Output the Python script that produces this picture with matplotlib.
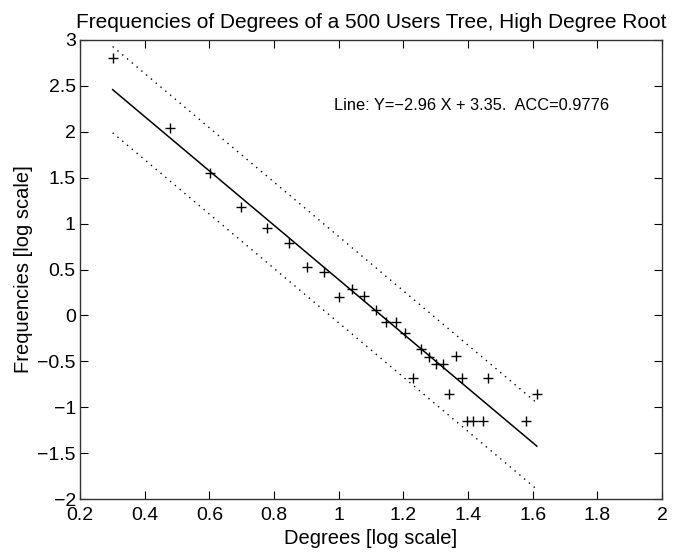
import matplotlib
matplotlib.use("Agg")
import matplotlib.pyplot as plt
import numpy as np

plt.rcParams['font.family'] = ['Liberation Sans', 'DejaVu Sans']

degrees = [0.301, 0.477, 0.602, 0.699, 0.778, 0.845, 0.903, 0.954, 1.000,
           1.041, 1.079, 1.114, 1.146, 1.176, 1.204, 1.230, 1.255, 1.279,
           1.301, 1.322, 1.342, 1.362, 1.380, 1.398, 1.415, 1.447, 1.462,
           1.580, 1.613]
frequencies = [2.80, 2.045, 1.548, 1.184, 0.955, 0.785, 0.530, 0.469, 0.197,
               0.284, 0.215, 0.059, -0.069, -0.069, -0.195, -0.682, -0.370, -0.450,
               -0.533, -0.533, -0.856, -0.442, -0.682, -1.154, -1.154, -1.154, -0.682,
               -1.154, -0.856]
slope = -2.96
intercept = 3.35
band = 0.47
acc = 0.9776

xticks = [0.2, 0.4, 0.6, 0.8, 1, 1.2, 1.4, 1.6, 1.8, 2]
yticks = [-2, -1.5, -1, -0.5, 0, 0.5, 1, 1.5, 2, 2.5, 3]

fig = plt.figure(figsize=(6.98, 5.55), dpi=100)
ax = fig.add_axes([80/698, 56/555, 582/698, 459/555])

xs = np.array([min(degrees), max(degrees)])
fit = slope * xs + intercept
ax.plot(degrees, frequencies, '+', color='black', markersize=7, markeredgewidth=1.0)
ax.plot(xs, fit, '-', color='black', linewidth=1.1)
ax.plot(xs, fit + band, ':', color='black', linewidth=1.0, dashes=(1, 3.5))
ax.plot(xs, fit - band, ':', color='black', linewidth=1.0, dashes=(1, 3.5))

ax.set_xlim(0.2, 2)
ax.set_ylim(-2, 3)
ax.set_xticks(xticks)
ax.set_yticks(yticks)
ax.set_xticklabels([f"{t:g}" for t in xticks])
ax.set_yticklabels([f"{t:g}".replace('-', '\u2212') for t in yticks])
ax.tick_params(direction='in', top=True, right=True, length=6, width=0.8,
               labelsize=14, colors='black')
ax.tick_params(axis='x', pad=6)
ax.tick_params(axis='y', pad=3)
for s in ax.spines.values():
    s.set_linewidth(1.0)
    s.set_color('#333333')

ax.text(0.986, 2.29, f"Line: Y=\u2212{abs(slope):.2f} X + {intercept:.2f}.  ACC={acc}",
        fontsize=11.8, va='center', ha='left')

ax.set_title("Frequencies of Degrees of a 500 Users Tree, High Degree Root",
             fontsize=15, pad=9)
ax.set_xlabel("Degrees [log scale]", fontsize=14.5, labelpad=3)
ax.set_ylabel("Frequencies [log scale]", fontsize=14.5, labelpad=3)

fig.savefig("out.png", dpi=100)
